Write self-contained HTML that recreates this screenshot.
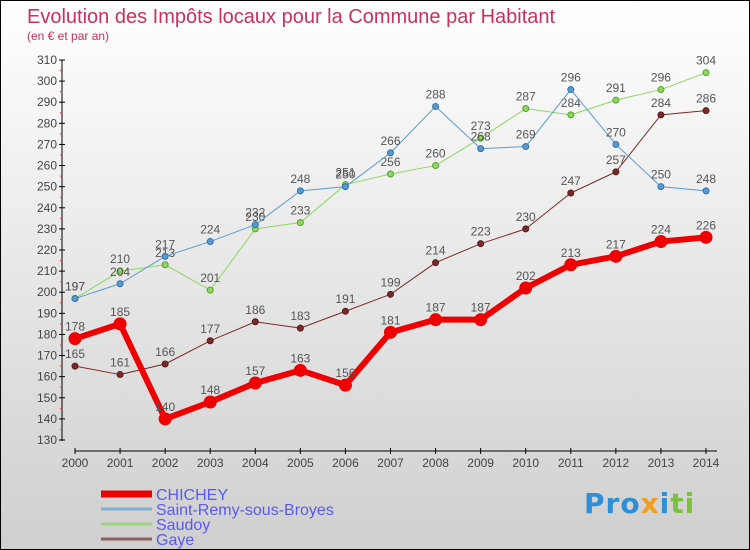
<!DOCTYPE html>
<html><head><meta charset="utf-8"><style>
body{margin:0;}
#c{width:748px;height:548px;border:1px solid #000;background:linear-gradient(#ffffff,#cfcfcf);position:relative;overflow:hidden;font-family:"Liberation Sans",sans-serif;}
svg{position:absolute;left:0;top:0;}
</style></head><body>
<div id="c">
<svg id="s" width="748" height="548">
<text x="26" y="22" font-size="20" fill="#c8305f">Evolution des Impôts locaux pour la Commune par Habitant</text>
<text x="26" y="39" font-size="12" fill="#c8305f">(en € et par an)</text>
</svg>
<div style="position:absolute;left:583px;top:486px;font:bold 28px 'DejaVu Sans',sans-serif;letter-spacing:1px"><span style="color:#2e8fd6">Pro</span><span style="color:#f0a020">x</span><span style="color:#2e8fd6">i</span><span style="color:#7cc040">ti</span></div>
</div>
<script>
const years=[2000,2001,2002,2003,2004,2005,2006,2007,2008,2009,2010,2011,2012,2013,2014];
const yTicks=[130,140,150,160,170,180,190,200,210,220,230,240,250,260,270,280,290,300,310];
const chichey=[178,185,140,148,157,163,156,181,187,187,202,213,217,224,226];
const saintRemy=[197,204,217,224,232,248,250,266,288,268,269,296,270,250,248];
const saudoy=[197,210,213,201,230,233,251,256,260,273,287,284,291,296,304];
const gaye=[165,161,166,177,186,183,191,199,214,223,230,247,257,284,286];
const NS="http://www.w3.org/2000/svg";
const svg=document.getElementById('s');
const x=i=>74+i*(705-74)/(years.length-1);
const y=v=>439-(v-130)*(439-59)/(310-130);
function mk(t,a,p){const e=document.createElementNS(NS,t);for(const k in a)e.setAttribute(k,a[k]);(p||svg).appendChild(e);return e;}
let ax=mk('g',{});


mk('line',{x1:61,y1:59,x2:61,y2:440,stroke:'#000','stroke-width':1},ax);
yTicks.forEach(v=>{mk('line',{x1:58,y1:y(v),x2:64,y2:y(v),stroke:'#000'},ax);
 if(v<310)mk('line',{x1:59,y1:y(v+5),x2:61,y2:y(v+5),stroke:'#f33'},ax);
 const t=mk('text',{x:56,y:y(v)+4,'font-size':12,fill:'#444','text-anchor':'end'},ax);t.textContent=v;});
let xa=mk('g',{});


mk('line',{x1:74,y1:450,x2:716,y2:450,stroke:'#000'},xa);
years.forEach((yr,i)=>{mk('line',{x1:x(i),y1:447,x2:x(i),y2:453,stroke:'#000'},xa);
 const t=mk('text',{x:x(i),y:466,'font-size':12,fill:'#444','text-anchor':'middle'},xa);t.textContent=yr;});
function series(data,color,w,r,name,dotStroke){
 const g=mk('g',{});
 
 
 mk('polyline',{points:data.map((v,i)=>x(i)+','+y(v)).join(' '),fill:'none',stroke:color,'stroke-width':w,'stroke-linejoin':'round'},g);
 data.forEach((v,i)=>{const c=mk('circle',{cx:x(i),cy:y(v),r:r,fill:color,stroke:dotStroke,'stroke-width':1},g);
  
  
  const t=mk('text',{x:x(i),y:y(v)-8,'font-size':12,fill:'#555','text-anchor':'middle'},g);t.textContent=v;});
}
series(gaye,'#7a2a2a',1,3,'gaye-series','#5a1a1a');
series(saudoy,'#8ed760',1,3,'saudoy-series','#5aa030');
series(saintRemy,'#5a9ad0',1,3,'saint-remy-series','#3070b0');
series(chichey,'#ee0000',6,6,'chichey-series','#ee0000');
const names=['CHICHEY','Saint-Remy-sous-Broyes','Saudoy','Gaye'];
const cols=['#ee0000','#7fb0d0','#9ed080','#906060'];
const ws=[7,3,3,3];
names.forEach((n,i)=>{const g=mk('g',{});
 
 
 const ly=493+i*15;
 mk('line',{x1:100,y1:ly,x2:151,y2:ly,stroke:cols[i],'stroke-width':ws[i]},g);
 const t=mk('text',{x:155,y:ly+6,'font-size':16,fill:'#5a5af0'},g);t.textContent=n;});
</script>
</body></html>
